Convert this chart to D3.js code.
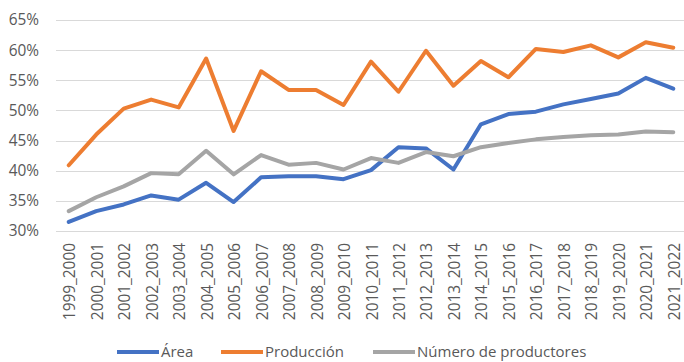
<!DOCTYPE html>
<html>
<head>
<meta charset="utf-8">
<script src="https://cdn.jsdelivr.net/npm/d3@7"></script>
<style>
  html, body { margin: 0; padding: 0; background: #fff; }
  svg { display: block; }
  text { font-family: "Open Sans", sans-serif; fill: #595959; }
</style>
</head>
<body>
<svg id="chart" width="684" height="362"></svg>
<script>
// Campaigns (agricultural years)
const categories = [
  "1999_2000","2000_2001","2001_2002","2002_2003","2003_2004","2004_2005",
  "2005_2006","2006_2007","2007_2008","2008_2009","2009_2010","2010_2011",
  "2011_2012","2012_2013","2013_2014","2014_2015","2015_2016","2016_2017",
  "2017_2018","2018_2019","2019_2020","2020_2021","2021_2022"
];

// Shares, in percent
const area = [31.5, 33.3, 34.4, 35.9, 35.2, 38.0, 34.8, 38.9, 39.1, 39.1, 38.6, 40.1,
  43.9, 43.7, 40.2, 47.7, 49.4, 49.8, 51.0, 51.9, 52.8, 55.4, 53.6];
const produccion = [40.9, 46.0, 50.3, 51.8, 50.5, 58.6, 46.6, 56.5, 53.4, 53.4, 50.9, 58.1,
  53.1, 59.9, 54.1, 58.2, 55.5, 60.2, 59.7, 60.8, 58.8, 61.3, 60.4];
const productores = [33.3, 35.6, 37.4, 39.6, 39.4, 43.3, 39.4, 42.6, 41.0, 41.3, 40.2, 42.1,
  41.3, 43.1, 42.4, 43.9, 44.6, 45.2, 45.6, 45.9, 46.0, 46.5, 46.4];

const yTicks = [30, 35, 40, 45, 50, 55, 60, 65];

const seriesNames = ["Área", "Producción", "Número de productores"];
const seriesColors = ["#4472C4", "#ED7D31", "#A5A5A5"];

const series = [
  { name: seriesNames[0], color: seriesColors[0], values: area },
  { name: seriesNames[1], color: seriesColors[1], values: produccion },
  { name: seriesNames[2], color: seriesColors[2], values: productores }
];

const svg = d3.select("#chart");

const plotLeft = 55, plotRight = 687;
const x = d3.scaleBand().domain(categories).range([plotLeft, plotRight]).padding(0);
const y = d3.scaleLinear().domain([30, 65]).range([231, 20]);

// Horizontal gridlines
svg.append("g")
  .selectAll("line")
  .data(yTicks)
  .join("line")
  .attr("x1", 56)
  .attr("x2", 684)
  .attr("y1", d => Math.round(y(d)) + 0.5)
  .attr("y2", d => Math.round(y(d)) + 0.5)
  .attr("stroke", "#d9d9d9")
  .attr("stroke-width", 1);

// Y axis labels
const yAxis = d3.axisLeft(y).tickValues(yTicks).tickSize(0).tickPadding(0)
  .tickFormat(d => d + "%");
svg.append("g")
  .attr("transform", "translate(39,0)")
  .call(yAxis)
  .call(g => g.select(".domain").remove())
  .call(g => g.selectAll("text")
    .attr("font-family", "'Open Sans', sans-serif")
    .attr("font-size", "15.4px")
    .attr("fill", "#595959"));

// X axis labels, rotated
const xAxis = d3.axisBottom(x).tickSize(0).tickPadding(0);
svg.append("g")
  .attr("transform", "translate(0,231)")
  .call(xAxis)
  .call(g => g.select(".domain").remove())
  .call(g => g.selectAll("text")
    .attr("font-family", "'Open Sans', sans-serif")
    .attr("font-size", "15.4px")
    .attr("fill", "#595959")
    .attr("text-anchor", "end")
    .attr("dy", null)
    .attr("y", 0)
    .attr("transform", "translate(1,12) rotate(-90)")
    .attr("dominant-baseline", "central"));

// Series lines
const line = d3.line()
  .x((d, i) => x(categories[i]) + x.bandwidth() / 2)
  .y(d => y(d));

svg.append("g")
  .selectAll("path")
  .data(series)
  .join("path")
  .attr("d", d => line(d.values))
  .attr("fill", "none")
  .attr("stroke", d => d.color)
  .attr("stroke-width", 4)
  .attr("stroke-linejoin", "round")
  .attr("stroke-linecap", "round");

// Legend
const legendX = [117, 221, 373];
const legend = svg.append("g")
  .selectAll("g")
  .data(series)
  .join("g")
  .attr("transform", (d, i) => `translate(${legendX[i]},352)`);
legend.append("line")
  .attr("x1", 0).attr("x2", 42)
  .attr("y1", 0).attr("y2", 0)
  .attr("stroke", d => d.color)
  .attr("stroke-width", 4);
legend.append("text")
  .attr("x", 44)
  .attr("y", 0)
  .attr("dy", "0.32em")
  .attr("font-size", "15px")
  .text(d => d.name);
</script>
</body>
</html>
